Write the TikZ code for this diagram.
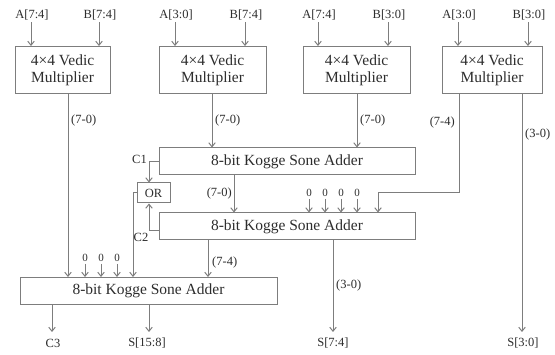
\documentclass[tikz,border=0pt]{standalone}
\usepackage{fontspec}
\setmainfont{Liberation Serif}
\usetikzlibrary{arrows.meta}
\definecolor{ln}{RGB}{125,125,125}
\definecolor{tx}{RGB}{45,45,45}
\begin{document}
\begin{tikzpicture}[x=1pt,y=-1pt,
  box/.style={draw=ln,line width=1pt,inner sep=0pt,text=tx,font=\fontsize{15.5}{17}\selectfont,align=center},
  lbl/.style={text=tx,font=\fontsize{12.5}{14}\selectfont,inner sep=0pt},
  zlbl/.style={text=tx,font=\fontsize{11}{12}\selectfont,inner sep=0pt},
  arr/.style={draw=ln,line width=1pt,-{Straight Barb[length=4pt,width=6.5pt]}},
  wire/.style={draw=ln,line width=1pt}]
\useasboundingbox (0,0) rectangle (555,355);
\fill[white] (0,0) rectangle (555,355);
% Vedic multipliers
\node[box,minimum width=95pt,minimum height=47pt] (V1) at (62.5,70) {4×4 Vedic\\Multiplier};
\node[box,minimum width=107pt,minimum height=47pt] (V2) at (212.5,70) {4×4 Vedic\\Multiplier};
\node[box,minimum width=107pt,minimum height=47pt] (V3) at (356.5,70) {4×4 Vedic\\Multiplier};
\node[box,minimum width=100pt,minimum height=47pt] (V4) at (492,70) {4×4 Vedic\\Multiplier};
% adders
\node[box,minimum width=256pt,minimum height=27pt] (K1) at (287,161.5) {8-bit Kogge Sone Adder};
\node[box,minimum width=256pt,minimum height=27pt] (K2) at (287,226.5) {8-bit Kogge Sone Adder};
\node[box,minimum width=257pt,minimum height=27pt] (K3) at (148.5,291) {8-bit Kogge Sone Adder};
\node[box,minimum width=33pt,minimum height=20pt,font=\fontsize{12.5}{14}\selectfont] (OR) at (153.5,193) {OR};
% inputs
\foreach \n/\xa/\xb/\la/\lb in {V1/31/99/A[7:4]/B[7:4], V2/175/245/A[3:0]/B[7:4], V3/318/388/A[7:4]/B[3:0], V4/458/528/A[3:0]/B[3:0]}{
  \node[lbl] (\n a) at (\xa+1,15) {\la};
  \node[lbl] (\n b) at (\xb+1,15) {\lb};
  \draw[arr] (\n a.south -| \xa,0) ++(0,2) -- (\n.north -| \xa,0);
  \draw[arr] (\n b.south -| \xb,0) ++(0,2) -- (\n.north -| \xb,0);
}
% V1 -> K3
\draw[arr] (V1.south -| 68,0) -- (K3.north -| 68,0);
\node[lbl,anchor=west] (l1) at (71,120) {(7-0)};
% V2 -> K1
\draw[arr] (V2.south -| 212,0) -- (K1.north -| 212,0);
\node[lbl,anchor=west] (l2) at (215,120) {(7-0)};
% V3 -> K1
\draw[arr] (V3.south -| 357,0) -- (K1.north -| 357,0);
\node[lbl,anchor=west] (l3) at (360,120) {(7-0)};
% V4 -> K2
\coordinate (r1) at (459,193);
\coordinate (r2) at (378,193);
\draw[arr] (V4.south -| 459,0) -- (r1) -- (r2) -- (K2.north -| 378,0);
\node[lbl,anchor=east] (l4) at (455,122) {(7-4)};
% V4 -> S[3:0]
\node[lbl] (s30) at (523,343) {S[3:0]};
\draw[arr] (V4.south -| 522,0) -- (522,332);
\node[lbl,anchor=west] (l5) at (525,134) {(3-0)};
% C1
\node[lbl] (c1) at (139.5,159) {C1};
\draw[arr] (K1.west) -| ([xshift=-4.5pt]OR.north);
% C2
\node[lbl] (c2) at (141,237) {C2};
\draw[arr] ([yshift=-4pt]K2.west) -| ([xshift=-4.5pt]OR.south);
% OR -> K3
\draw[arr] (OR.west) -| (K3.north -| 133,0);
% K1 -> K2
\draw[arr] (K1.south -| 234,0) -- (K2.north -| 234,0);
\node[lbl,anchor=east] (l6) at (232,193) {(7-0)};
% zeros into K2
\foreach \x/\i in {309/1,325/2,341/3,357/4}{
  \node[zlbl] (z2\i) at (\x,193) {0};
  \draw[arr] (\x,199) -- (K2.north -| \x,0);
}
% K2 outputs
\node[lbl] (s74) at (333,343) {S[7:4]};
\draw[arr] (K2.south -| 333,0) -- (333,332);
\node[lbl,anchor=west] (l7) at (336,285) {(3-0)};
\draw[arr] (K2.south -| 208,0) -- (K3.north -| 208,0);
\node[lbl,anchor=west] (l8) at (212,262) {(7-4)};
% zeros into K3
\foreach \x/\i in {85/1,101/2,117/3}{
  \node[zlbl] (z3\i) at (\x,258) {0};
  \draw[arr] (\x,264) -- (K3.north -| \x,0);
}
% K3 outputs
\node[lbl] (c3) at (53,343) {C3};
\draw[arr] (K3.south -| 52,0) -- (52,332);
\node[lbl] (s158) at (147,343) {S[15:8]};
\draw[arr] (K3.south -| 149,0) -- (149,332);
\end{tikzpicture}
\end{document}
